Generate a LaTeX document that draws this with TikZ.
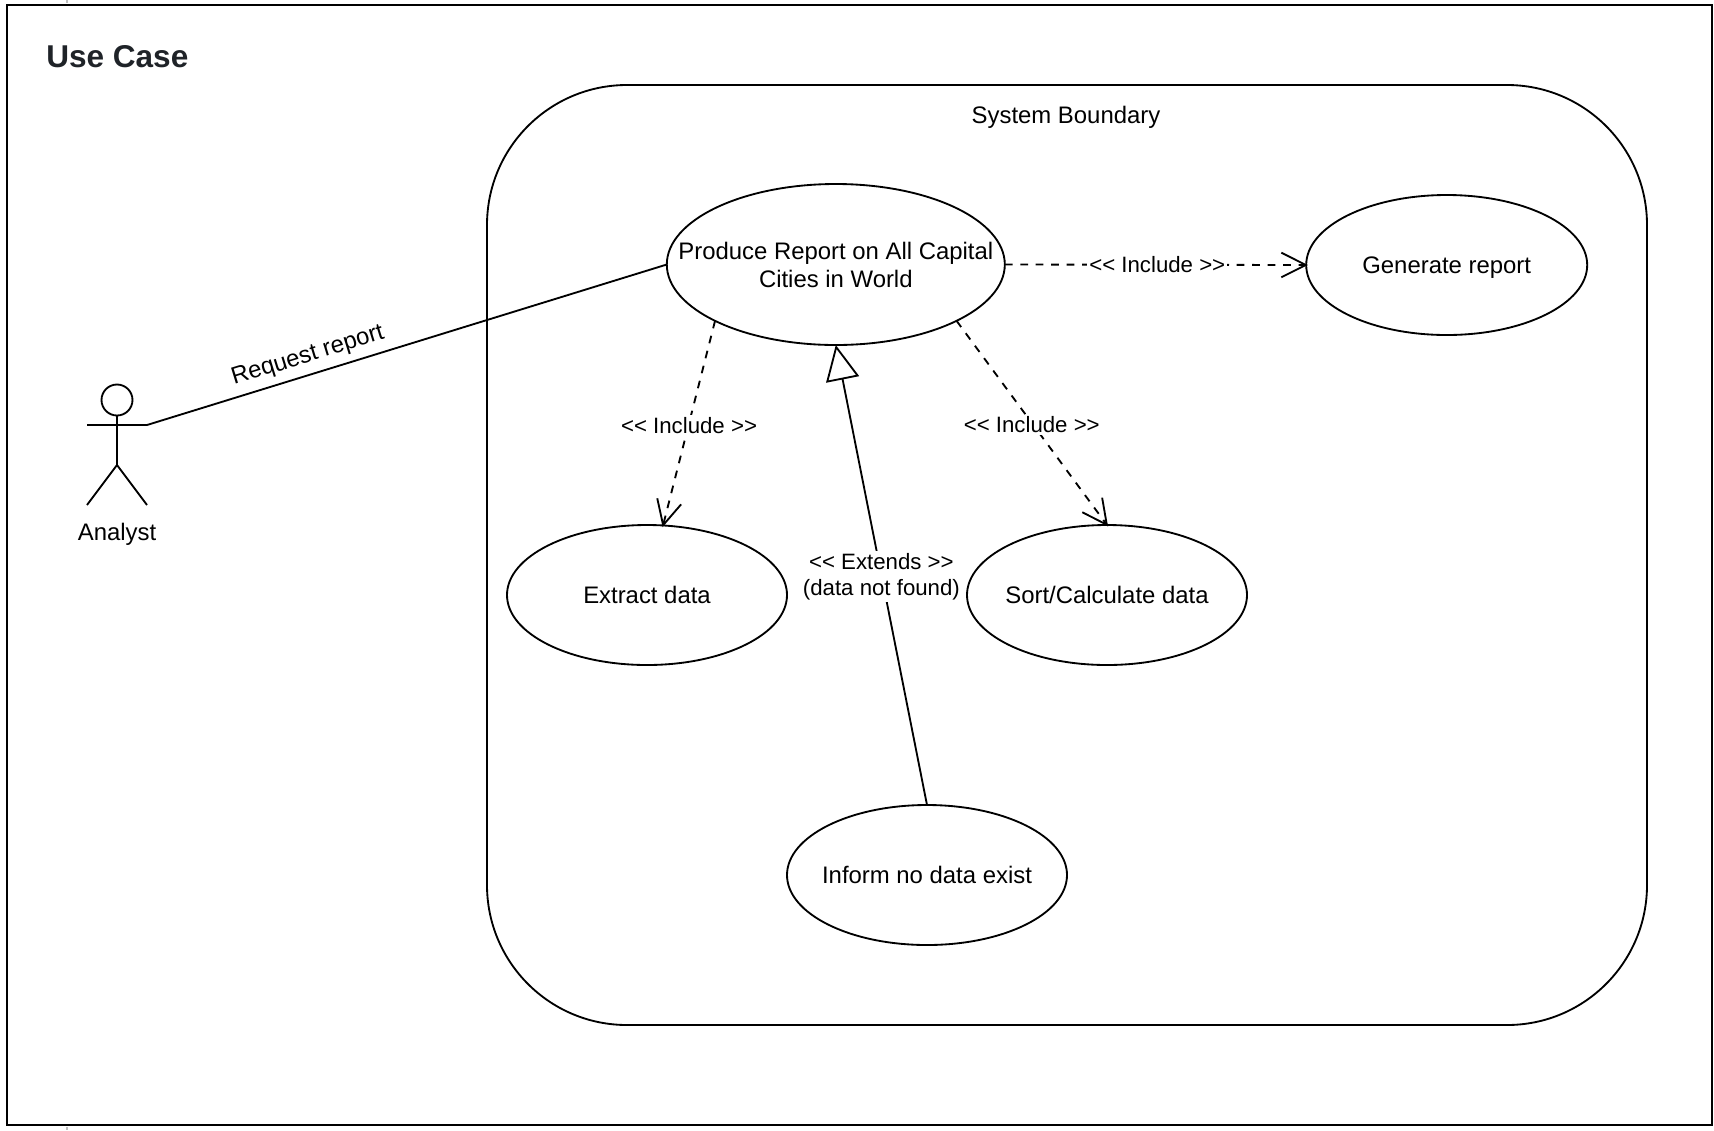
\documentclass[tikz,border=0pt]{standalone}
\usepackage{fontspec}
\setmainfont{Liberation Sans}
\usetikzlibrary{arrows.meta,shapes.geometric}
\newcommand{\fsUse}{\fontsize{13.6pt}{15.9pt}\selectfont}
\newcommand{\fsEdge}{\fontsize{12.65pt}{14.9pt}\selectfont}
\definecolor{titleink}{HTML}{1F2328}
\tikzset{
  ink/.style={line width=1.05pt,draw=black},
  usecase/.style={ink,ellipse,inner sep=0pt,outer sep=0pt,fill=white},
  uctext/.style={align=center,font=\fsUse,inner sep=0pt,text height=10pt,text depth=3pt,yshift=-1.1pt},
  edgelabel/.style={fill=white,align=center,font=\fsEdge,inner sep=1.2pt,yshift=-1.1pt},
  includes/.style={ink,dashed,dash pattern=on 4.4pt off 4.4pt,shorten >=-1pt,-{Straight Barb[length=14pt,width=14pt,line width=1.05pt]}},
  extendsline/.style={ink,-{Triangle[open,length=20pt,width=19pt,fill=white,line width=1.05pt]}},
  plain/.style={ink}
}
\begin{document}
\begin{tikzpicture}[x=0.02cm,y=-0.02cm]
\useasboundingbox (0,0) rectangle (1714,1130);
% faint ticks at the page edges
\draw[gray!50,line width=0.9pt] (67,0) -- (67,3) (67,1127) -- (67,1130);
% frame
\node[draw=black,line width=1.3pt,rectangle,inner sep=0pt,outer sep=0pt,minimum width=1705*0.02cm,minimum height=1120*0.02cm] (frame) at (859.5,565) {};
\node[anchor=west,font=\fontsize{17.95pt}{20pt}\selectfont\bfseries,text=titleink,inner sep=0pt] (title) at (46,57) {Use Case};
% system boundary
\node[ink,rectangle,rounded corners=2.8cm,inner sep=0pt,outer sep=0pt,minimum width=1160*0.02cm,minimum height=940*0.02cm] (boundary) at (1067,555) {};
\node[uctext] (boundarytext) at (1066,115) {System Boundary};
% use cases
\node[usecase,minimum width=338*0.02cm,minimum height=161*0.02cm] (main) at (835.8,264.5) {};
\node[align=center,font=\fsUse,inner sep=0pt,yshift=-0.1pt] (maintext) at (main.center) {Produce Report on All Capital\\Cities in World};
\node[usecase,minimum width=281*0.02cm,minimum height=140*0.02cm] (gen) at (1446.7,265) {};
\node[uctext] (gentext) at (gen.center) {Generate report};
\node[usecase,minimum width=280*0.02cm,minimum height=140*0.02cm] (extract) at (647,595) {};
\node[uctext] (extracttext) at (extract.center) {Extract data};
\node[usecase,minimum width=280*0.02cm,minimum height=140*0.02cm] (sort) at (1107,595) {};
\node[uctext] (sorttext) at (sort.center) {Sort/Calculate data};
\node[usecase,minimum width=280*0.02cm,minimum height=140*0.02cm] (inform) at (927,875) {};
\node[uctext] (informtext) at (inform.center) {Inform no data exist};
% actor
\node[ink,circle,inner sep=0pt,outer sep=0pt,minimum size=31*0.02cm] (head) at (117,400) {};
\coordinate (armL) at (87,425);
\coordinate (armR) at (147,425);
\coordinate (hip) at (117,465);
\coordinate (legL) at (87,505);
\coordinate (legR) at (147,505);
\draw[plain] (armL) -- (armR);
\draw[plain] (head.south) -- (hip);
\draw[plain] (legL) -- (hip) -- (legR);
\node[uctext] (analyst) at (117,532) {Analyst};
% connectors
\draw[plain] (armR) -- node[pos=0.32,sloped,above,font=\fsUse,inner sep=0pt,yshift=3.8pt] (reqlabel) {Request report} (main.west);
\draw[includes] (main.east) -- node[edgelabel,xshift=1pt,yshift=1.1pt] (inc3) {<{}< Include >{}>} (gen.west);
\draw[includes] (main.205.6) -- node[edgelabel] (inc1) {<{}< Include >{}>} (extract.77);
\draw[includes] (main.-25.4) -- node[edgelabel] (inc2) {<{}< Include >{}>} (sort.north);
\draw[extendsline] (inform.north) -- node[edgelabel] (ext) {<{}< Extends >{}>\\(data not found)} (main.south);
\end{tikzpicture}
\end{document}
